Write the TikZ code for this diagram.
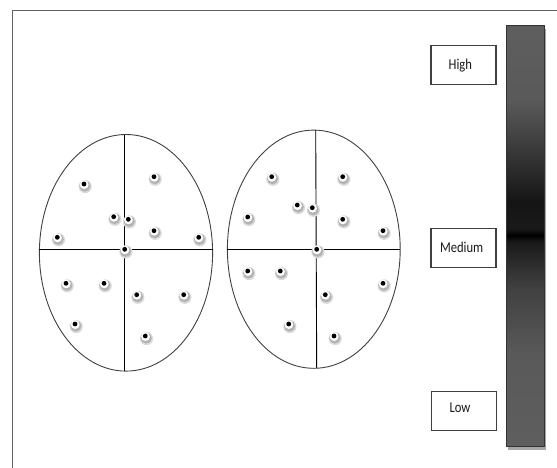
\documentclass[tikz,border=0pt]{standalone}
\usepackage{fontspec}
\setmainfont{Carlito}
\definecolor{gA}{gray}{0.37}
\definecolor{gB}{gray}{0.35}
\definecolor{gC}{gray}{0.22}
\definecolor{gD}{gray}{0.08}
\definecolor{gE}{gray}{0.0}
\definecolor{gF}{gray}{0.10}
\definecolor{gG}{gray}{0.15}
\definecolor{gH}{gray}{0.25}
\pgfdeclareverticalshading{barshade}{100bp}{%
  color(0bp)=(gA); color(25bp)=(gA); color(36bp)=(gB); color(44bp)=(gH);
  color(49.3bp)=(gF); color(50.1bp)=(gE); color(50.9bp)=(gF); color(54bp)=(gD);
  color(60bp)=(gC); color(66bp)=(gB); color(75bp)=(gA); color(100bp)=(gA)}
\tikzset{
  frameline/.style={draw=black!62, line width=1.3pt},
  oval/.style={draw=black!75, line width=0.9pt},
  axis/.style={draw=black, line width=0.9pt},
  levelbox/.style={draw=black!75, line width=1.1pt, minimum width=65pt, minimum height=39pt, inner sep=0pt},
  leveltext/.style={anchor=base, inner sep=0pt, font=\fontsize{15pt}{15pt}\selectfont, xscale=0.84, text=black!90},
  spot/.pic={
    \fill[black!14] (1.2pt,-2.6pt) circle (6.6pt);
    \fill[black!30] (0.9pt,-2.0pt) circle (5.6pt);
    \fill[white] (0.2pt,-0.6pt) circle (4.4pt);
    \fill[black] (0,0) circle (2.4pt);
  }
}
\begin{document}
\begin{tikzpicture}[x=1pt,y=-1pt]
\useasboundingbox (0,0) rectangle (557,467);
% frame
\draw[frameline] (12.5,470) -- (12.5,10.7) -- (560,10.7);
% left oval
\draw[oval] (126,252.8) ellipse [x radius=86.6pt, y radius=118.3pt];
\draw[axis] (39.4,249.3) -- (212.6,249.3);
\draw[axis] (124.5,134.6) -- (124.5,371.0);
% right oval
\draw[oval] (313.8,249.2) ellipse [x radius=86.4pt, y radius=119.1pt];
\draw[axis] (227.4,249.6) -- (400.2,249.6);
\draw[axis] (315.7,130.2) -- (316.7,368.2);
% spots left
\foreach \p in {(84,184),(154,176.7),(113.7,216.7),(128.3,219.3),(154,230.7),(57.3,237.3),(198.7,237.3),(124.7,249.3),(66,283.3),(104,283.3),(136.7,294.7),(183.7,294.7),(75,324),(145.3,336)}
  \pic at \p {spot};
% spots right
\foreach \p in {(271.7,176.7),(342.7,176.7),(297.3,205),(312.3,207.7),(247.7,217),(342.7,219.3),(383,230.7),(316.7,249.3),(247.7,271),(280.3,271),(383,283.3),(325.3,294.7),(288.7,324),(334,336)}
  \pic at \p {spot};
% level boxes
\node[levelbox] (highbox) at (463.5,65.1) {};
\node[levelbox] (medbox) at (463.5,248.2) {};
\node[levelbox] (lowbox) at (464.3,411.2) {};
\node[leveltext] (hightext) at (460.3,69) {High};
\node[leveltext] (medtext) at (461.7,252.3) {Medium};
\node[leveltext] (lowtext) at (460,412.7) {Low};
% gradient bar
\fill[black!35] (508.2,28.7) rectangle (546.2,449.9);
\shade[shading=barshade] (506.7,25.7) rectangle (544.5,446.7);
\draw[black!80, line width=1pt] (506.7,25.7) rectangle (544.5,446.7);
\end{tikzpicture}
\end{document}
